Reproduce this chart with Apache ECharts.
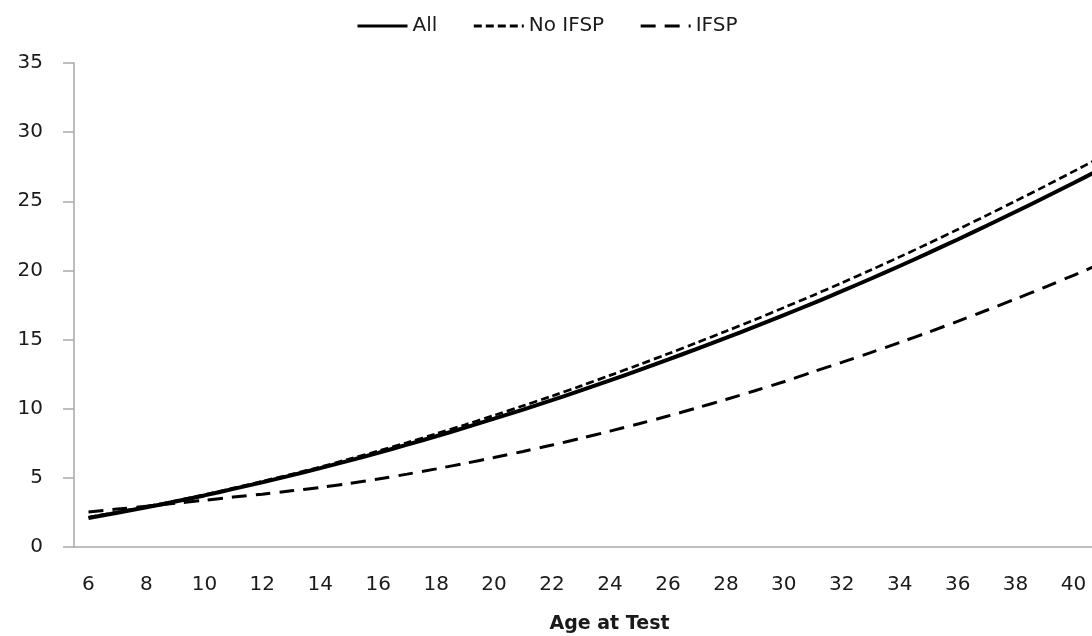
<!DOCTYPE html>
<html>
<head>
<meta charset="utf-8">
<script src="https://cdn.jsdelivr.net/npm/echarts@6/dist/echarts.min.js"></script>
<style>
  html, body { margin: 0; padding: 0; background: #fff; }
  #chart { width: 1092px; height: 636px; }
</style>
</head>
<body>
<div id="chart"></div>
<script>
// ages (last one runs off the right edge of the picture)
const ages = [6, 7, 8, 9, 10, 11, 12, 13, 14, 15, 16, 17, 18, 19, 20, 21, 22, 23,
  24, 25, 26, 27, 28, 29, 30, 31, 32, 33, 34, 35, 36, 37, 38, 39, 40, 41];

const allVals = [2.10, 2.48, 2.87, 3.29, 3.73, 4.20, 4.68, 5.18, 5.70, 6.25, 6.81,
  7.40, 8.01, 8.63, 9.28, 9.94, 10.62, 11.32, 12.05, 12.79, 13.55, 14.33, 15.12, 15.93,
  16.77, 17.62, 18.50, 19.40, 20.32, 21.27, 22.24, 23.23, 24.24, 25.27, 26.32, 27.39];

const noIfspVals = [2.15, 2.53, 2.92, 3.34, 3.78, 4.26, 4.75, 5.26, 5.79, 6.36, 6.94,
  7.55, 8.19, 8.84, 9.52, 10.21, 10.92, 11.65, 12.41, 13.18, 13.97, 14.78, 15.60, 16.44,
  17.31, 18.19, 19.10, 20.03, 20.98, 21.96, 22.96, 23.98, 25.02, 26.08, 27.16, 28.26];

const ifspVals = [2.53, 2.74, 2.95, 3.16, 3.38, 3.61, 3.82, 4.06, 4.31, 4.60, 4.92,
  5.27, 5.65, 6.05, 6.47, 6.91, 7.37, 7.86, 8.38, 8.91, 9.47, 10.06, 10.67, 11.30,
  11.95, 12.66, 13.35, 14.06, 14.79, 15.54, 16.32, 17.12, 17.94, 18.78, 19.65, 20.54];

const font = 'DejaVu Sans';
const axisGrey = '#a9a9a9';

let myChart = echarts.init(document.getElementById('chart'));
let option = {
  animation: false,
  textStyle: { fontFamily: font, color: '#1a1a1a' },
  legend: {
    top: 11,
    left: 351,
    itemWidth: 50,
    itemHeight: 20,
    itemGap: 35,
    // hide the marker circle, keep only the line
    itemStyle: { color: 'rgba(0,0,0,0)', borderWidth: 0 },
    lineStyle: { width: 3 },
    textStyle: { fontFamily: font, fontSize: 20, color: '#1a1a1a' },
    data: ['All', 'No IFSP', 'IFSP']
  },
  grid: {
    left: 74,
    right: -25,
    top: 63,
    bottom: 89,
    containLabel: false,
    outerBoundsMode: 'none'
  },
  xAxis: {
    type: 'category',
    data: ages,
    boundaryGap: true,
    name: 'Age at Test',
    nameLocation: 'middle',
    nameGap: 68,
    nameTextStyle: {
      fontFamily: font,
      fontSize: 19,
      fontWeight: 'bold',
      color: '#1a1a1a',
      padding: [0, 0, 0, 28]
    },
    axisLine: { lineStyle: { color: axisGrey, width: 1.5 } },
    axisTick: { interval: 0, length: 7, lineStyle: { color: axisGrey, width: 1.5 } },
    axisLabel: {
      interval: 1,
      margin: 28,
      fontSize: 20,
      fontFamily: font,
      color: '#1a1a1a'
    },
    splitLine: { show: false }
  },
  yAxis: {
    type: 'value',
    min: 0,
    max: 35,
    interval: 5,
    axisLine: { show: true, lineStyle: { color: axisGrey, width: 1.5 } },
    axisTick: { show: true, length: 11, lineStyle: { color: axisGrey, width: 1.5 } },
    axisLabel: {
      margin: 31,
      fontSize: 20,
      fontFamily: font,
      color: '#1a1a1a'
    },
    splitLine: { show: false }
  },
  series: [
    {
      name: 'All',
      type: 'line',
      data: allVals,
      smooth: 0.3,
      symbol: 'none',
      z: 3,
      lineStyle: { color: '#000', width: 4, type: 'solid' },
      itemStyle: { color: '#000' }
    },
    {
      name: 'No IFSP',
      type: 'line',
      data: noIfspVals,
      smooth: 0.3,
      symbol: 'none',
      z: 2,
      lineStyle: { color: '#000', width: 2.7, type: [8, 4] },
      itemStyle: { color: '#000' }
    },
    {
      name: 'IFSP',
      type: 'line',
      data: ifspVals,
      smooth: 0.3,
      symbol: 'none',
      z: 2,
      lineStyle: { color: '#000', width: 3, type: [15, 9] },
      itemStyle: { color: '#000' }
    }
  ]
};
myChart.setOption(option);
</script>
</body>
</html>
